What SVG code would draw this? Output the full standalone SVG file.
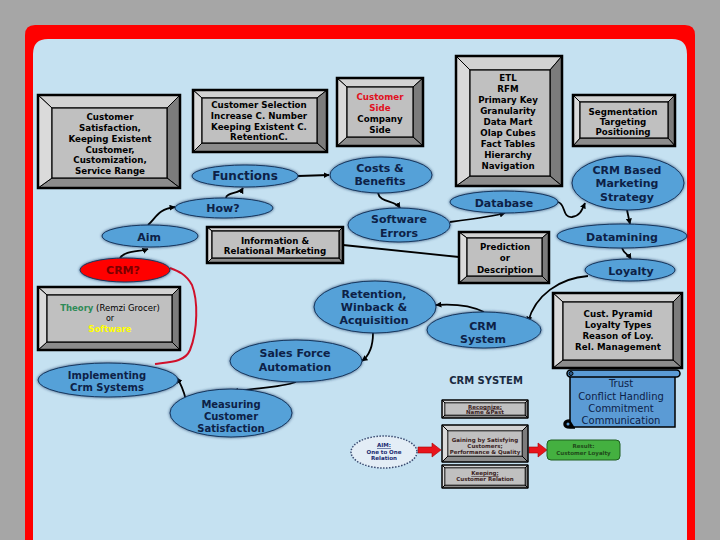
<svg xmlns="http://www.w3.org/2000/svg" width="720" height="540" viewBox="0 0 720 540">
<defs>
<filter id="g" x="-20%" y="-40%" width="140%" height="180%">
<feGaussianBlur in="SourceAlpha" stdDeviation="1.6" result="b"/>
<feFlood flood-color="#1a3560" flood-opacity="0.85"/>
<feComposite in2="b" operator="in" result="s"/>
<feMerge><feMergeNode in="s"/><feMergeNode in="SourceGraphic"/></feMerge>
</filter>
<marker id="ah" viewBox="0 0 10 10" refX="9" refY="5" markerWidth="6" markerHeight="6" markerUnits="userSpaceOnUse" orient="auto">
<path d="M0,0 L10,5 L0,10 z" fill="#000"/>
</marker>
</defs>
<style>
.bt{fill:#d2d2d2;stroke:#000;stroke-width:1}
.bl{fill:#dadada;stroke:#000;stroke-width:1}
.br{fill:#7c7c7c;stroke:#000;stroke-width:1}
.bb{fill:#8c8c8c;stroke:#000;stroke-width:1}
.bf{fill:#c0c0c0;stroke:#000;stroke-width:1.2}
.bo{fill:none;stroke:#000;stroke-width:2.5}
.bx{font-family:"DejaVu Sans",sans-serif;font-weight:bold;font-size:8.7px;fill:#000;text-anchor:middle}
.e{fill:#55a1d8;stroke:#17375e;stroke-width:1;filter:url(#g)}
.et{font-family:"DejaVu Sans",sans-serif;font-weight:bold;font-size:11px;fill:#0d2147;text-anchor:middle}
.c{fill:none;stroke:#000;stroke-width:1.8;marker-end:url(#ah)}
.tiny{font-family:"DejaVu Sans",sans-serif;font-weight:bold;font-size:5.5px;fill:#3b1f1f;text-anchor:middle}
</style>
<rect x="0" y="0" width="720" height="540" fill="#a6a6a6"/>
<path d="M25,545 L25,35 Q25,25 35,25 L685,25 Q695,25 695,35 L695,545 z" fill="#ff0000"/>
<path d="M33,545 L33,54 Q33,39 48,39 L672,39 Q687,39 687,54 L687,545 z" fill="#c5e1f1"/>

<g id="connectors">
<path class="c" d="M298,176 L329,175"/>
<path class="c" d="M226,198 C226,192 240,194 243,188"/>
<path class="c" d="M148,225 C156,218 158,209 175,207"/>
<path class="c" d="M120,258 C125,250 140,252 148,249"/>
<path class="c" d="M378,193 C380,203 395,200 400,208"/>
<path class="c" d="M450,222 C480,218 495,216 505,213"/>
<path class="c" d="M558,202 C566,204 562,218 572,217 C580,216 582,210 585,203"/>
<path class="c" d="M627,210 L630,224"/>
<path class="c" d="M622,248 C624,254 628,254 631,259"/>
<path class="c" d="M588,276 C560,278 535,295 528,322"/>
<path class="c" d="M484,312 C470,305 450,304 436,305"/>
<path class="c" d="M373,333 C373,345 370,355 362,361"/>
<path class="c" d="M296,382 C280,388 250,388 233,392"/>
<path class="c" d="M186,400 C184,392 181,384 177,378"/>
<path d="M155,364 C170,362 185,362 190,350 C198,330 198,300 192,285 C186,274 178,271 170,268" fill="none" stroke="#d0102a" stroke-width="2"/>
<path d="M343,245 L459,257" fill="none" stroke="#000" stroke-width="1.8"/>
<polygon points="418,447 432,447 432,443 441,450 432,457 432,453 418,453" fill="#e8141c" stroke="#a00" stroke-width="0.6"/>
<polygon points="529,447 538,447 538,443 547,450 538,457 538,453 529,453" fill="#e8141c" stroke="#a00" stroke-width="0.6"/>
</g>

<g id="box-satisfaction">
<polygon class="bt" points="38,95 180,95 167,108 52,108"/>
<polygon class="br" points="180,95 180,188 167,178 167,108"/>
<polygon class="bb" points="38,188 180,188 167,178 52,178"/>
<polygon class="bl" points="38,95 52,108 52,178 38,188"/>
<rect class="bf" x="52" y="108" width="115" height="70"/>
<rect class="bo" x="38" y="95" width="142" height="93"/>
<text class="bx" x="110" y="120">Customer</text>
<text class="bx" x="110" y="131">Satisfaction,</text>
<text class="bx" x="110" y="142">Keeping Existent</text>
<text class="bx" x="110" y="153">Customer,</text>
<text class="bx" x="110" y="163">Customization,</text>
<text class="bx" x="110" y="174">Service Range</text>
</g>

<g id="box-selection">
<polygon class="bt" points="193,90 327,90 317,98 202,98"/>
<polygon class="br" points="327,90 327,152 317,143 317,98"/>
<polygon class="bb" points="193,152 327,152 317,143 202,143"/>
<polygon class="bl" points="193,90 202,98 202,143 193,152"/>
<rect class="bf" x="202" y="98" width="115" height="45"/>
<rect class="bo" x="193" y="90" width="134" height="62"/>
<text class="bx" x="259" y="108">Customer Selection</text>
<text class="bx" x="259" y="119">Increase C. Number</text>
<text class="bx" x="259" y="130">Keeping Existent C.</text>
<text class="bx" x="259" y="140">RetentionC.</text>
</g>

<g id="box-side">
<polygon class="bt" points="337,78 423,78 413,87 347,87"/>
<polygon class="br" points="423,78 423,146 413,137 413,87"/>
<polygon class="bb" points="337,146 423,146 413,137 347,137"/>
<polygon class="bl" points="337,78 347,87 347,137 337,146"/>
<rect class="bf" x="347" y="87" width="66" height="50"/>
<rect class="bo" x="337" y="78" width="86" height="68"/>
<text class="bx" x="380" y="100" fill="#e01020" style="fill:#e01020">Customer</text>
<text class="bx" x="380" y="111" style="fill:#e01020">Side</text>
<text class="bx" x="380" y="122">Company</text>
<text class="bx" x="380" y="133">Side</text>
</g>

<g id="box-etl">
<polygon class="bt" points="456,56 562,56 550,70 470,70"/>
<polygon class="br" points="562,56 562,186 550,176 550,70"/>
<polygon class="bb" points="456,186 562,186 550,176 470,176"/>
<polygon class="bl" points="456,56 470,70 470,176 456,186"/>
<rect class="bf" x="470" y="70" width="80" height="106"/>
<rect class="bo" x="456" y="56" width="106" height="130"/>
<text class="bx" x="508" y="81">ETL</text>
<text class="bx" x="508" y="92">RFM</text>
<text class="bx" x="508" y="103">Primary Key</text>
<text class="bx" x="508" y="114">Granularity</text>
<text class="bx" x="508" y="125">Data Mart</text>
<text class="bx" x="508" y="136">Olap Cubes</text>
<text class="bx" x="508" y="147">Fact Tables</text>
<text class="bx" x="508" y="158">Hierarchy</text>
<text class="bx" x="508" y="169">Navigation</text>
</g>

<g id="box-segmentation">
<polygon class="bt" points="573,95 675,95 668,102 580,102"/>
<polygon class="br" points="675,95 675,146 668,138 668,102"/>
<polygon class="bb" points="573,146 675,146 668,138 580,138"/>
<polygon class="bl" points="573,95 580,102 580,138 573,146"/>
<rect class="bf" x="580" y="102" width="88" height="36"/>
<rect class="bo" x="573" y="95" width="102" height="51"/>
<text class="bx" x="623" y="115">Segmentation</text>
<text class="bx" x="623" y="125">Targeting</text>
<text class="bx" x="623" y="135">Positioning</text>
</g>

<g id="box-information">
<polygon class="bt" points="207,227 343,227 339,231 212,231"/>
<polygon class="br" points="343,227 343,263 339,258 339,231"/>
<polygon class="bb" points="207,263 343,263 339,258 212,258"/>
<polygon class="bl" points="207,227 212,231 212,258 207,263"/>
<rect class="bf" x="212" y="231" width="127" height="27"/>
<rect class="bo" x="207" y="227" width="136" height="36"/>
<text class="bx" x="275" y="244">Information &amp;</text>
<text class="bx" x="275" y="254">Relational Marketing</text>
</g>

<g id="box-prediction">
<polygon class="bt" points="459,232 549,232 542,238 467,238"/>
<polygon class="br" points="549,232 549,283 542,276 542,238"/>
<polygon class="bb" points="459,283 549,283 542,276 467,276"/>
<polygon class="bl" points="459,232 467,238 467,276 459,283"/>
<rect class="bf" x="467" y="238" width="75" height="38"/>
<rect class="bo" x="459" y="232" width="90" height="51"/>
<text class="bx" x="505" y="250">Prediction</text>
<text class="bx" x="505" y="261">or</text>
<text class="bx" x="505" y="273">Description</text>
</g>

<g id="box-theory">
<polygon class="bt" points="38,287 180,287 172,295 47,295"/>
<polygon class="br" points="180,287 180,350 172,342 172,295"/>
<polygon class="bb" points="38,350 180,350 172,342 47,342"/>
<polygon class="bl" points="38,287 47,295 47,342 38,350"/>
<rect class="bf" x="47" y="295" width="125" height="47"/>
<rect class="bo" x="38" y="287" width="142" height="63"/>
<text class="bx" x="110" y="311" style="font-size:8.5px"><tspan fill="#2e8b57" style="fill:#2e8b57">Theory</tspan><tspan font-weight="normal" style="font-weight:normal"> (Remzi Grocer)</tspan></text>
<text class="bx" x="110" y="321" style="font-weight:normal;font-size:8px">or</text>
<text class="bx" x="110" y="332" style="fill:#ffff00;font-size:8.5px">Software</text>
</g>

<g id="box-pyramid">
<polygon class="bt" points="553,293 682,293 673,302 563,302"/>
<polygon class="br" points="682,293 682,368 673,360 673,302"/>
<polygon class="bb" points="553,368 682,368 673,360 563,360"/>
<polygon class="bl" points="553,293 563,302 563,360 553,368"/>
<rect class="bf" x="563" y="302" width="110" height="58"/>
<rect class="bo" x="553" y="293" width="129" height="75"/>
<text class="bx" x="618" y="317">Cust. Pyramid</text>
<text class="bx" x="618" y="328">Loyalty Types</text>
<text class="bx" x="618" y="339">Reason of Loy.</text>
<text class="bx" x="618" y="350">Rel. Management</text>
</g>

<g id="functions"><ellipse class="e" cx="245" cy="176" rx="53" ry="11"/><text class="et" x="245" y="180" style="font-size:12px">Functions</text></g>
<g id="costs"><ellipse class="e" cx="381" cy="175" rx="51" ry="18"/><text class="et" x="380" y="172">Costs &amp;</text><text class="et" x="380" y="185">Benefits</text></g>
<g id="how"><ellipse class="e" cx="224" cy="208" rx="49" ry="10"/><text class="et" x="223" y="212">How?</text></g>
<g id="aim"><ellipse class="e" cx="150" cy="236" rx="48" ry="11"/><text class="et" x="149" y="241">Aim</text></g>
<g id="crmq"><ellipse class="e" cx="125" cy="270" rx="45" ry="12" style="fill:#ff0000"/><text class="et" x="123" y="274" style="fill:#7a0000">CRM?</text></g>
<g id="software"><ellipse class="e" cx="399" cy="225" rx="51" ry="17"/><text class="et" x="399" y="223">Software</text><text class="et" x="399" y="237">Errors</text></g>
<g id="database"><ellipse class="e" cx="504" cy="202" rx="54" ry="11"/><text class="et" x="504" y="207">Database</text></g>
<g id="crmbased"><ellipse class="e" cx="628" cy="183" rx="56" ry="27"/><text class="et" x="627" y="174">CRM Based</text><text class="et" x="627" y="187">Marketing</text><text class="et" x="627" y="201">Strategy</text></g>
<g id="datamining"><ellipse class="e" cx="622" cy="236" rx="65" ry="12"/><text class="et" x="622" y="241">Datamining</text></g>
<g id="loyalty"><ellipse class="e" cx="630" cy="270" rx="45" ry="11"/><text class="et" x="631" y="275">Loyalty</text></g>
<g id="retention"><ellipse class="e" cx="375" cy="307" rx="61" ry="26"/><text class="et" x="374" y="298">Retention,</text><text class="et" x="374" y="311">Winback &amp;</text><text class="et" x="374" y="324">Acquisition</text></g>
<g id="sfa"><ellipse class="e" cx="296" cy="361" rx="66" ry="21"/><text class="et" x="295" y="357">Sales Force</text><text class="et" x="295" y="371">Automation</text></g>
<g id="measuring"><ellipse class="e" cx="231" cy="413" rx="61" ry="24"/><text class="et" x="231" y="408" style="font-size:10px">Measuring</text><text class="et" x="231" y="420" style="font-size:10px">Customer</text><text class="et" x="231" y="432" style="font-size:10px">Satisfaction</text></g>
<g id="implementing"><ellipse class="e" cx="108" cy="380" rx="70" ry="17"/><text class="et" x="107" y="378.5" style="font-size:10px">Implementing</text><text class="et" x="107" y="390.5" style="font-size:10px">Crm Systems</text></g>
<g id="crmsystem"><ellipse class="e" cx="484" cy="330" rx="57" ry="18"/><text class="et" x="483" y="330">CRM</text><text class="et" x="483" y="343">System</text></g>

<g id="scroll">
<rect x="570" y="374" width="105" height="53" fill="#5b9bd5" stroke="#000" stroke-width="1.5"/>
<rect x="567" y="370" width="113" height="7" rx="3.5" fill="#5b9bd5" stroke="#000" stroke-width="1.5"/>
<circle cx="571" cy="373.5" r="2" fill="#2f5f8f" stroke="#000" stroke-width="1"/>
<path d="M570,420 Q564,420 564,424 Q564,428 570,428 L575,428" fill="#000" stroke="#000" stroke-width="1.5"/>
<circle cx="568" cy="424" r="1.5" fill="#5b9bd5"/>
<g font-family="DejaVu Sans, sans-serif" font-size="10px" fill="#0d2147" text-anchor="middle">
<text x="621" y="386.5">Trust</text>
<text x="621" y="399.5">Conflict Handling</text>
<text x="621" y="411.5">Commitment</text>
<text x="621" y="423.5">Communication</text>
</g>
</g>

<g id="crm-system-title"><text x="486" y="384" font-family="DejaVu Sans, sans-serif" font-weight="bold" font-size="10px" fill="#1a2a40" text-anchor="middle">CRM SYSTEM</text></g>

<g id="box-recognize">
<polygon class="bt" points="442,400 528,400 525,403 445,403"/>
<polygon class="br" points="528,400 528,418 525,415 525,403"/>
<polygon class="bb" points="442,418 528,418 525,415 445,415"/>
<polygon class="bl" points="442,400 445,403 445,415 442,418"/>
<rect class="bf" x="445" y="403" width="80" height="12" style="stroke-width:0.6"/>
<rect class="bo" x="442" y="400" width="86" height="18" style="stroke-width:1"/>
<text class="tiny" x="485" y="408.5" text-decoration="underline">Recognize;</text>
<text class="tiny" x="485" y="414">Name &amp;Past</text>
</g>
<g id="box-gaining">
<polygon class="bt" points="442,425 528,425 522,431 448,431"/>
<polygon class="br" points="528,425 528,462 522,456 522,431"/>
<polygon class="bb" points="442,462 528,462 522,456 448,456"/>
<polygon class="bl" points="442,425 448,431 448,456 442,462"/>
<rect class="bf" x="448" y="431" width="74" height="25" style="stroke-width:0.6"/>
<rect class="bo" x="442" y="425" width="86" height="37" style="stroke-width:1"/>
<text class="tiny" x="485" y="442">Gaining by Satisfying</text>
<text class="tiny" x="485" y="448">Customers;</text>
<text class="tiny" x="485" y="454">Performance &amp; Quality</text>
</g>
<g id="box-keeping">
<polygon class="bt" points="442,465 528,465 525,468 445,468"/>
<polygon class="br" points="528,465 528,488 525,485 525,468"/>
<polygon class="bb" points="442,488 528,488 525,485 445,485"/>
<polygon class="bl" points="442,465 445,468 445,485 442,488"/>
<rect class="bf" x="445" y="468" width="80" height="17" style="stroke-width:0.6"/>
<rect class="bo" x="442" y="465" width="86" height="23" style="stroke-width:1"/>
<text class="tiny" x="485" y="475" text-decoration="underline">Keeping;</text>
<text class="tiny" x="485" y="481">Customer Relation</text>
</g>
<g id="aim-relation">
<ellipse cx="384" cy="452" rx="33" ry="16" fill="#e3edf6" stroke="#3a4a70" stroke-width="1.5" stroke-dasharray="1.5,1.5"/>
<text class="tiny" x="384" y="447" text-decoration="underline" style="fill:#1a2a70">AIM:</text>
<text class="tiny" x="384" y="453.5" style="fill:#1a2a70">One to One</text>
<text class="tiny" x="384" y="460" style="fill:#1a2a70">Relation</text>
</g>
<g id="result">
<rect x="547" y="440" width="73" height="20" rx="4" fill="#44b040" stroke="#1f5f1f" stroke-width="1"/>
<text class="tiny" x="583.5" y="448" style="fill:#1f4a1a">Result:</text>
<text class="tiny" x="583.5" y="455" style="fill:#1f4a1a">Customer Loyalty</text>
</g>
</svg>
